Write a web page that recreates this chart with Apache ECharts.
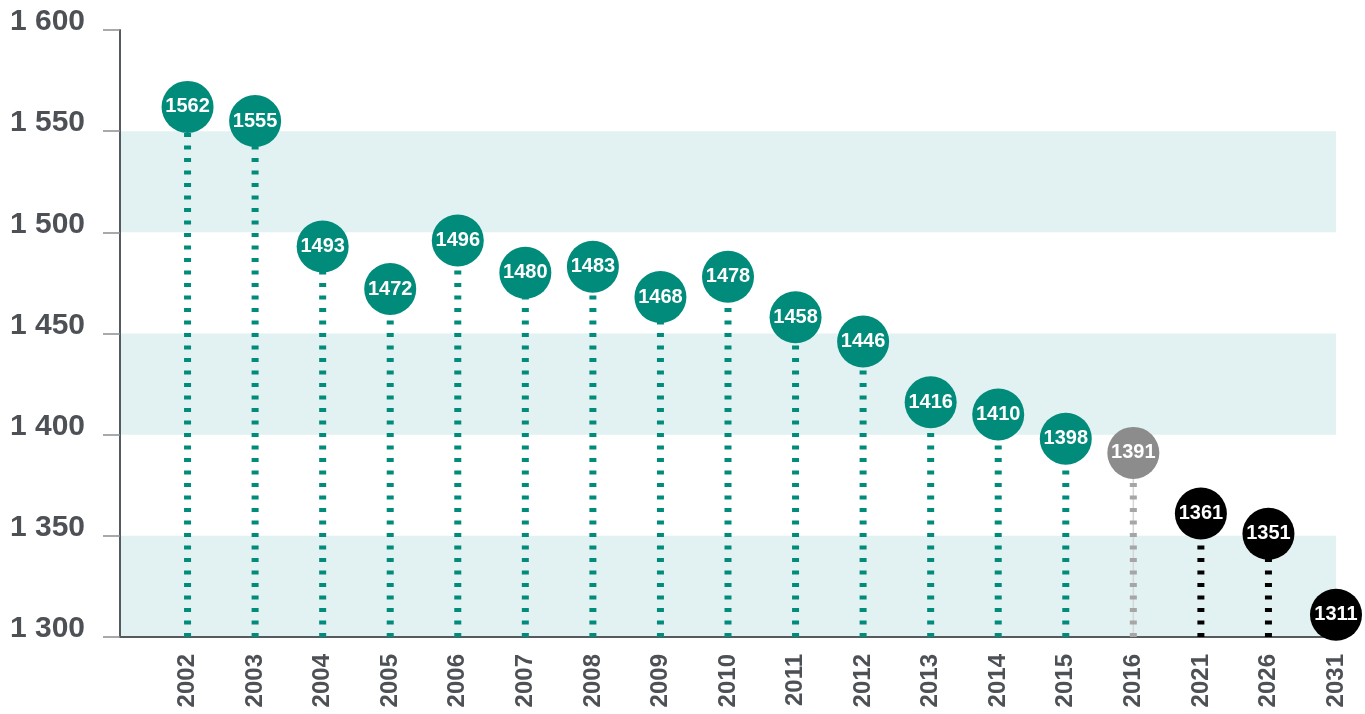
<!DOCTYPE html>
<html lang="en">

<head>
  <meta charset="UTF-8">
  <title>Lollipop 2002-2031</title>
  <script src="https://cdn.jsdelivr.net/npm/echarts@6.0.0/dist/echarts.min.js"></script>
  <style>
    html, body { margin: 0; padding: 0; background: #fff; }
    #chart { width: 1365px; height: 714px; }
  </style>
</head>

<body>
  <div id="chart"></div>

  <script>
    // data
    const years = ['2002', '2003', '2004', '2005', '2006', '2007', '2008', '2009', '2010',
      '2011', '2012', '2013', '2014', '2015', '2016', '2021', '2026', '2031']
    const values = [1562, 1555, 1493, 1472, 1496, 1480, 1483, 1468, 1478,
      1458, 1446, 1416, 1410, 1398, 1391, 1361, 1351, 1311]
    // a = actual, e = estimate, f = forecast
    const status = ['a', 'a', 'a', 'a', 'a', 'a', 'a', 'a', 'a',
      'a', 'a', 'a', 'a', 'a', 'e', 'f', 'f', 'f']

    const yMin = 1300
    const yMax = 1600
    const step = 50

    const dotColor = { a: '#008b7b', e: '#8c8c8c', f: '#000000' }
    const stemColor = { a: '#008b7b', e: '#a6a6a6', f: '#000000' }

    // blank first category so 2002 sits one step right of the y axis
    const cats = [''].concat(years)
    const points = values.map((v, i) => [i + 1, v, status[i]])

    const chart = echarts.init(document.getElementById('chart'))
    const option = {
      animation: false,
      grid: { left: 120, right: 29, top: 30, bottom: 77 },
      xAxis: {
        type: 'category',
        data: cats,
        boundaryGap: false,
        axisLine: { lineStyle: { color: '#555a5e', width: 2 } },
        axisTick: { show: false },
        axisLabel: {
          rotate: 90,
          margin: 17,
          interval: 0,
          color: '#4d5155',
          fontSize: 24,
          fontWeight: 'bold',
          fontFamily: 'Liberation Sans, Arial, sans-serif'
        }
      },
      yAxis: {
        type: 'value',
        min: yMin,
        max: yMax,
        interval: step,
        axisLine: { show: true, lineStyle: { color: '#555a5e', width: 2 } },
        axisTick: { show: true, length: 17, lineStyle: { color: '#8a8d90', width: 1.5 } },
        splitLine: { show: false },
        splitArea: {
          show: true,
          areaStyle: { color: ['#e2f1f1', 'rgba(255,255,255,0)'] }
        },
        axisLabel: {
          margin: 35,
          color: '#4d5155',
          fontSize: 30,
          fontWeight: 'bold',
          fontFamily: 'Liberation Sans, Arial, sans-serif',
          verticalAlign: 'bottom',
          lineHeight: 16,
          formatter: v => String(v).replace(/(\d)(\d{3})$/, '$1 $2')
        }
      },
      series: [{
          type: 'custom',
          data: points,
          encode: { x: 0, y: 1 },
          z: 2,
          renderItem: function (params, api) {
            const x = api.value(0)
            const s = points[params.dataIndex][2]
            const top = api.coord([x, api.value(1)])
            const base = api.coord([x, yMin])
            const children = []
            if (s === 'e') {
              children.push({
                type: 'line',
                shape: { x1: top[0], y1: top[1], x2: base[0], y2: base[1] },
                style: { stroke: '#d6d6d6', lineWidth: 1.5 }
              })
            }
            children.push({
              type: 'line',
              shape: { x1: base[0], y1: base[1], x2: top[0], y2: top[1] },
              style: { stroke: stemColor[s], lineWidth: 7, lineDash: [4, 8.5] }
            })
            return { type: 'group', children: children }
          }
        },
        {
          type: 'scatter',
          data: points,
          z: 3,
          symbol: 'circle',
          symbolSize: 52,
          itemStyle: {
            opacity: 1,
            color: p => dotColor[p.data[2]]
          },
          label: {
            show: true,
            position: 'inside',
            color: '#ffffff',
            fontSize: 20,
            fontWeight: 'bold',
            fontFamily: 'Liberation Sans, Arial, sans-serif',
            formatter: p => p.data[1]
          }
        }
      ]
    }
    chart.setOption(option)
  </script>
</body>

</html>
